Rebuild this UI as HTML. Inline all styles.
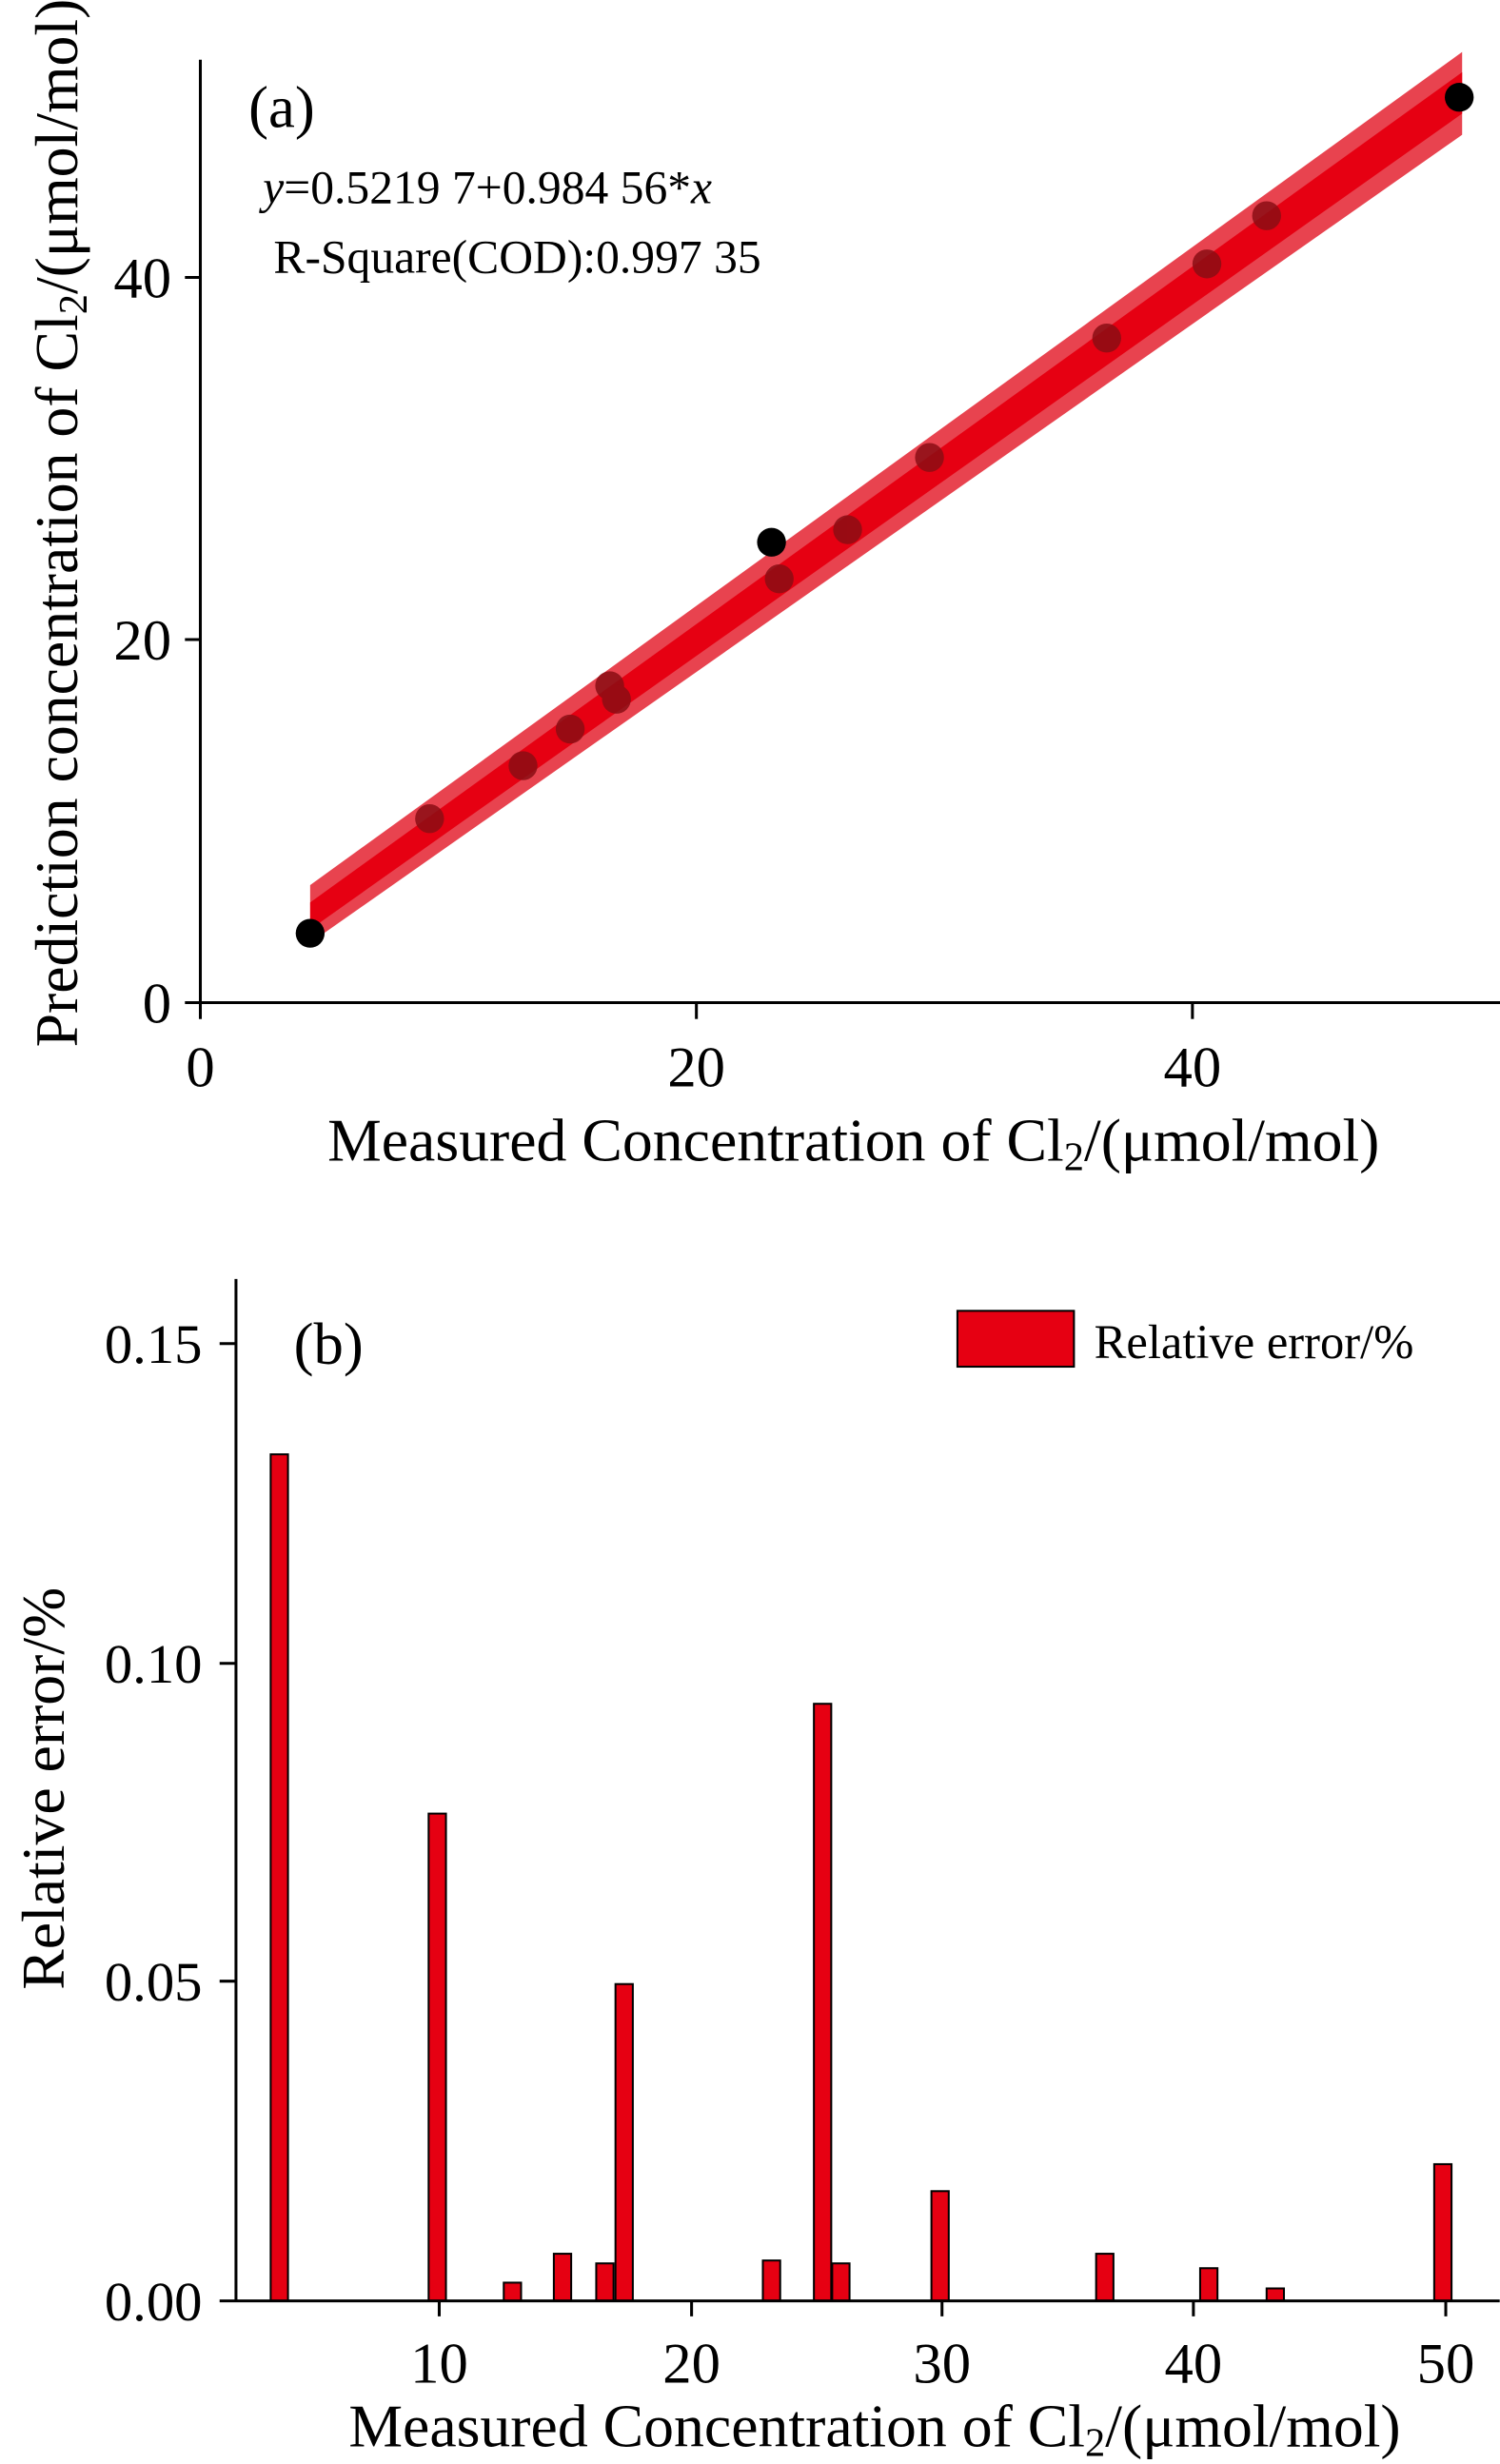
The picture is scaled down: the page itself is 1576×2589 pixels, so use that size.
<!DOCTYPE html>
<html><head><meta charset="utf-8"><style>html,body{margin:0;padding:0;background:#fff}svg{display:block}text{font-family:"Liberation Serif",serif;fill:#000}</style></head>
<body>
<svg width="1576" height="2589" viewBox="0 0 1576 2589" xmlns="http://www.w3.org/2000/svg">
<g transform="scale(1.012)">
<!-- Panel (a) -->
<polygon points="322,919 1518,54 1518,140 322,979" fill="#e8434f"/>
<polygon points="322,937 1518,75 1518,118 322,965" fill="#e60012"/>
<g fill="#8b0d14" opacity="0.85">
<circle cx="446" cy="850" r="15"/><circle cx="543" cy="795" r="15"/><circle cx="592" cy="757" r="15"/>
<circle cx="633" cy="712" r="15"/><circle cx="640" cy="726" r="15"/><circle cx="809" cy="601" r="15"/>
<circle cx="880" cy="550" r="15"/><circle cx="965" cy="475" r="15"/><circle cx="1149" cy="351" r="15"/>
<circle cx="1253" cy="274" r="15"/><circle cx="1315" cy="224" r="15"/>
</g>
<g fill="#000"><circle cx="322" cy="969" r="15"/><circle cx="801" cy="563" r="15"/><circle cx="1515" cy="101" r="15"/></g>
<g stroke="#000" stroke-width="3">
<line x1="208" y1="62" x2="208" y2="1058"/><line x1="192" y1="1041" x2="1576" y2="1041"/>
<line x1="192" y1="664" x2="208" y2="664"/><line x1="192" y1="288" x2="208" y2="288"/>
<line x1="723" y1="1041" x2="723" y2="1058"/><line x1="1238" y1="1041" x2="1238" y2="1058"/>
</g>
<g font-size="60" text-anchor="end"><text x="178" y="1062">0</text><text x="178" y="685">20</text><text x="178" y="309">40</text></g>
<g font-size="60" text-anchor="middle"><text x="208" y="1128">0</text><text x="723" y="1128">20</text><text x="1238" y="1128">40</text></g>
<text x="258" y="132" font-size="62">(a)</text>
<text x="273" y="211" font-size="49"><tspan font-style="italic">y</tspan>=0.5219 7+0.984 56*<tspan font-style="italic">x</tspan></text>
<text x="284" y="283" font-size="49">R-Square(COD):0.997 35</text>
<text x="340" y="1205" font-size="63">Measured Concentration of Cl<tspan font-size="42" dy="10">2</tspan><tspan dy="-10">/(μmol/mol)</tspan></text>
<text transform="translate(80,543) rotate(-90)" text-anchor="middle" font-size="63">Prediction concentration of Cl<tspan font-size="42" dy="10">2</tspan><tspan dy="-10">/(μmol/mol)</tspan></text>
<!-- Panel (b) -->
<g fill="#e60012" stroke="#000" stroke-width="2">
<rect x="281" y="1510" width="18" height="879"/>
<rect x="445" y="1883" width="18" height="506"/>
<rect x="523" y="2370" width="18" height="19"/>
<rect x="575" y="2340" width="18" height="49"/>
<rect x="619" y="2350" width="18" height="39"/>
<rect x="639" y="2060" width="18" height="329"/>
<rect x="792" y="2347" width="18" height="42"/>
<rect x="845" y="1769" width="18" height="620"/>
<rect x="864" y="2350" width="18" height="39"/>
<rect x="967" y="2275" width="18" height="114"/>
<rect x="1138" y="2340" width="18" height="49"/>
<rect x="1246" y="2355" width="18" height="34"/>
<rect x="1315" y="2376" width="18" height="13"/>
<rect x="1489" y="2247" width="18" height="142"/>
<rect x="994" y="1361" width="121" height="58"/>
</g>
<g stroke="#000" stroke-width="3">
<line x1="245" y1="1328" x2="245" y2="2389"/><line x1="228" y1="2389" x2="1557" y2="2389"/>
<line x1="228" y1="1395" x2="245" y2="1395"/><line x1="228" y1="1727" x2="245" y2="1727"/>
<line x1="228" y1="2057" x2="245" y2="2057"/>
<line x1="456" y1="2389" x2="456" y2="2405"/><line x1="718" y1="2389" x2="718" y2="2405"/>
<line x1="978" y1="2389" x2="978" y2="2405"/><line x1="1239" y1="2389" x2="1239" y2="2405"/>
<line x1="1501" y1="2389" x2="1501" y2="2405"/>
</g>
<g font-size="58" text-anchor="end"><text x="210" y="1415">0.15</text><text x="210" y="1747">0.10</text><text x="210" y="2077">0.05</text><text x="210" y="2409">0.00</text></g>
<g font-size="60" text-anchor="middle"><text x="456" y="2474">10</text><text x="718" y="2474">20</text><text x="978" y="2474">30</text><text x="1239" y="2474">40</text><text x="1501" y="2474">50</text></g>
<text x="305" y="1416" font-size="62">(b)</text>
<text x="1136" y="1410" font-size="50">Relative error/%</text>
<text x="362" y="2540" font-size="63">Measured Concentration of Cl<tspan font-size="42" dy="10">2</tspan><tspan dy="-10">/(μmol/mol)</tspan></text>
<text transform="translate(66,1857) rotate(-90)" text-anchor="middle" font-size="63">Relative error/%</text>
</g>
</svg>
</body></html>
